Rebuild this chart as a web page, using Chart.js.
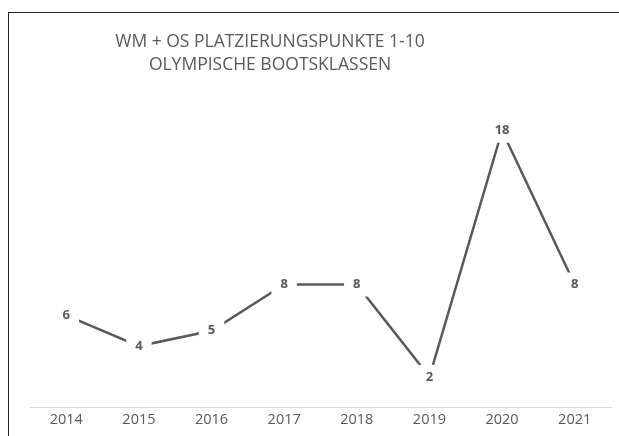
<!DOCTYPE html>
<html>
<head>
<meta charset="utf-8">
<script src="https://cdn.jsdelivr.net/npm/chart.js@4"></script>
<style>
  html, body { margin: 0; padding: 0; background: #fff; }
  #wrap { position: relative; width: 619px; height: 436px; }
  #frame { position: absolute; left: 8px; top: 12px; right: 0; bottom: 0;
           border-top: 1px solid #222; border-left: 1px solid #222; pointer-events: none; }
</style>
</head>
<body>
<div id="wrap">
  <canvas id="chart" width="619" height="436"></canvas>
  <div id="frame"></div>
</div>
<script>
// Daten
const years = ['2014', '2015', '2016', '2017', '2018', '2019', '2020', '2021'];
const punkte = [6, 4, 5, 8, 8, 2, 18, 8];
const titelZeilen = ['WM + OS PLATZIERUNGSPUNKTE 1-10', 'OLYMPISCHE BOOTSKLASSEN'];

const grau = '#595959';

// Titel (in Excel leicht links von der Mitte)
const titelPlugin = {
  id: 'titel',
  afterDraw(chart) {
    const ctx = chart.ctx;
    ctx.save();
    ctx.font = '17.5px "Open Sans", sans-serif';
    ctx.fillStyle = grau;
    ctx.textAlign = 'center';
    ctx.textBaseline = 'middle';
    titelZeilen.forEach((z, i) => ctx.fillText(z, 270, 42 + i * 23));
    ctx.restore();
  }
};

// Datenbeschriftungen mit weissem Hintergrund (wie Excel)
const labelPlugin = {
  id: 'labels',
  afterDatasetsDraw(chart) {
    const ctx = chart.ctx;
    const meta = chart.getDatasetMeta(0);
    ctx.save();
    ctx.font = 'bold 13px "Open Sans", sans-serif';
    ctx.textAlign = 'center';
    ctx.textBaseline = 'middle';
    meta.data.forEach((pt, i) => {
      const txt = String(punkte[i]);
      const w = ctx.measureText(txt).width;
      ctx.fillStyle = '#fff';
      ctx.fillRect(pt.x - w / 2 - 9, pt.y - 12, w + 18, 24);
      ctx.fillStyle = grau;
      ctx.fillText(txt, pt.x, pt.y);
    });
    ctx.restore();
  }
};

new Chart(document.getElementById('chart'), {
  type: 'line',
  data: {
    labels: years,
    datasets: [{
      data: punkte,
      borderColor: grau,
      borderWidth: 2.5,
      pointRadius: 0,
      tension: 0,
      fill: false
    }]
  },
  options: {
    responsive: false,
    animation: false,
    layout: { padding: { left: 30, right: 8, top: 100, bottom: 3 } },
    plugins: {
      legend: { display: false },
      tooltip: { enabled: false },
      title: { display: false }
    },
    scales: {
      x: {
        offset: true,
        grid: { display: false, drawTicks: false },
        border: { display: true, color: '#d9d9d9', width: 1 },
        ticks: { color: grau, padding: 4, maxRotation: 0, font: { family: '"Open Sans", sans-serif', size: 14.5 } }
      },
      y: {
        display: false,
        min: 0,
        max: 20
      }
    }
  },
  plugins: [labelPlugin, titelPlugin]
});
</script>
</body>
</html>
